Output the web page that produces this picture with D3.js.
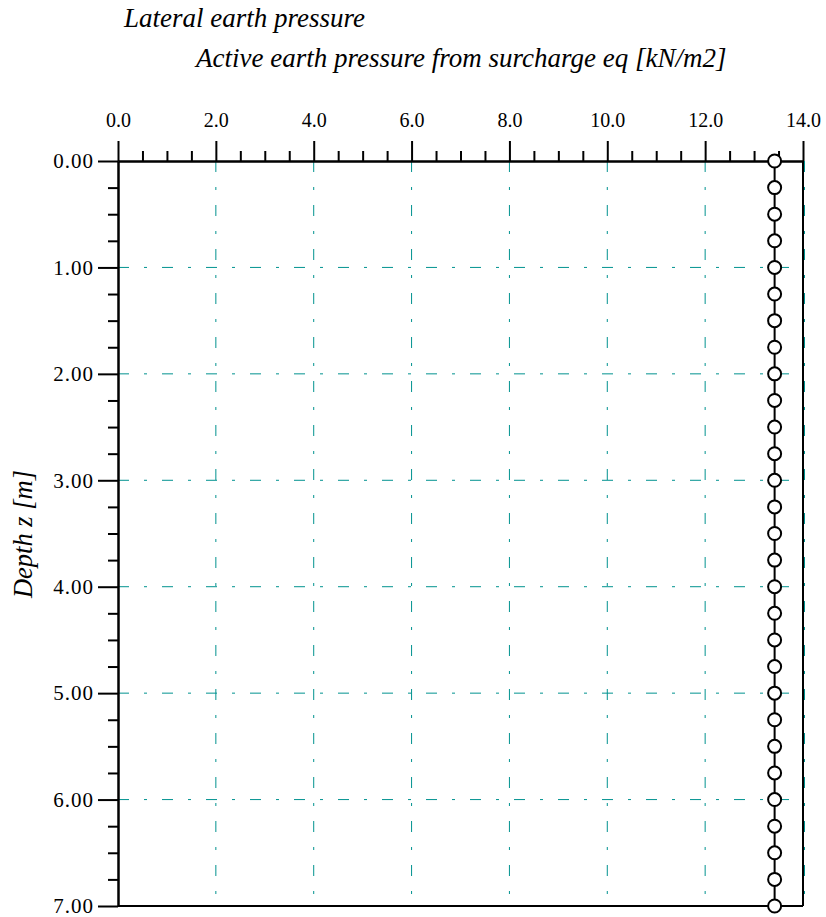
<!DOCTYPE html>
<html>
<head>
<meta charset="utf-8">
<script src="https://cdn.jsdelivr.net/npm/d3@7"></script>
<style>
  html, body { margin: 0; padding: 0; background: #fff; }
  svg { display: block; }
  text { font-family: "Liberation Serif", "Times New Roman", serif; fill: #000; }
</style>
</head>
<body>
<svg id="chart" width="826" height="917"></svg>
<script>
// Depth profile of active earth pressure from surcharge
const depths = [0.00, 0.25, 0.50, 0.75, 1.00, 1.25, 1.50, 1.75, 2.00, 2.25, 2.50, 2.75,
                3.00, 3.25, 3.50, 3.75, 4.00, 4.25, 4.50, 4.75, 5.00, 5.25, 5.50, 5.75,
                6.00, 6.25, 6.50, 6.75, 7.00];
const pressures = [13.42, 13.42, 13.42, 13.42, 13.42, 13.42, 13.42, 13.42, 13.42, 13.42,
                   13.42, 13.42, 13.42, 13.42, 13.42, 13.42, 13.42, 13.42, 13.42, 13.42,
                   13.42, 13.42, 13.42, 13.42, 13.42, 13.42, 13.42, 13.42, 13.42];
const xTicks = [0, 2, 4, 6, 8, 10, 12, 14];
const xMinorTicks = [0.5, 1, 1.5, 2.5, 3, 3.5, 4.5, 5, 5.5, 6.5, 7, 7.5, 8.5, 9, 9.5,
                     10.5, 11, 11.5, 12.5, 13, 13.5];
const yTicks = [0, 1, 2, 3, 4, 5, 6, 7];
const yMinorTicks = [0.25, 0.5, 0.75, 1.25, 1.5, 1.75, 2.25, 2.5, 2.75, 3.25, 3.5, 3.75,
                     4.25, 4.5, 4.75, 5.25, 5.5, 5.75, 6.25, 6.5, 6.75];
const xGrid = [2, 4, 6, 8, 10, 12, 14];
const yGrid = [1, 2, 3, 4, 5, 6];
const titleText = "Lateral earth pressure";
const subtitleText = "Active earth pressure from surcharge eq [kN/m2]";
const yTitleText = "Depth z [m]";

const svg = d3.select("#chart");
const plotLeft = 118, plotRight = 803, plotTop = 161, plotBottom = 906;

const x = d3.scaleLinear().domain([0, 14]).range([plotLeft, plotRight]);
const y = d3.scaleLinear().domain([0, 7]).range([plotTop, plotBottom]);

const gridColor = "#00928f";
const dash = "11,15,3,15";
const serif = "'Liberation Serif', 'Times New Roman', serif";

// grid lines
svg.append("g").selectAll("line").data(xGrid).join("line")
  .attr("x1", d => x(d) + (d === 14 ? 1.5 : 0)).attr("x2", d => x(d) + (d === 14 ? 1.5 : 0))
  .attr("y1", plotTop).attr("y2", plotBottom)
  .attr("stroke", gridColor).attr("stroke-width", 1).attr("stroke-dasharray", dash);
svg.append("g").selectAll("line").data(yGrid).join("line")
  .attr("x1", plotLeft).attr("x2", plotRight)
  .attr("y1", d => y(d)).attr("y2", d => y(d))
  .attr("stroke", gridColor).attr("stroke-width", 1).attr("stroke-dasharray", dash);

// frame: right and bottom borders
svg.append("line").attr("x1", plotRight).attr("x2", plotRight).attr("y1", plotTop).attr("y2", plotBottom)
  .attr("stroke", "#000").attr("stroke-width", 2);
svg.append("line").attr("x1", plotLeft).attr("x2", plotRight).attr("y1", plotBottom).attr("y2", plotBottom)
  .attr("stroke", "#000").attr("stroke-width", 2);

function styleAxis(g) {
  g.attr("font-family", serif).attr("font-size", 20);
  g.select(".domain").attr("stroke", "#000").attr("stroke-width", 2);
  g.selectAll(".tick line").attr("stroke", "#000").attr("stroke-width", 2);
  g.selectAll(".tick text").attr("fill", "#000");
}

// top axis: minor then major ticks
svg.append("g").attr("transform", `translate(0,${plotTop})`)
  .call(d3.axisTop(x).tickValues(xMinorTicks).tickSize(10).tickSizeOuter(0).tickFormat(""))
  .call(styleAxis);
svg.append("g").attr("transform", `translate(0,${plotTop})`)
  .call(d3.axisTop(x).tickValues(xTicks).tickSize(20).tickSizeOuter(0).tickPadding(14)
    .tickFormat(d3.format(".1f")))
  .call(styleAxis);

// left axis
svg.append("g").attr("transform", `translate(${plotLeft},0)`)
  .call(d3.axisLeft(y).tickValues(yMinorTicks).tickSize(10).tickSizeOuter(0).tickFormat(""))
  .call(styleAxis);
svg.append("g").attr("transform", `translate(${plotLeft},0)`)
  .call(d3.axisLeft(y).tickValues(yTicks).tickSize(20).tickSizeOuter(0).tickPadding(4)
    .tickFormat(d3.format(".2f")))
  .call(styleAxis)
  .call(g => g.selectAll(".tick text").attr("font-size", 21).attr("letter-spacing", 1));

// pressure profile
const pts = depths.map((d, i) => ({ z: d, p: pressures[i] }));
svg.append("path").datum(pts)
  .attr("d", d3.line().x(d => x(d.p)).y(d => y(d.z)))
  .attr("fill", "none").attr("stroke", "#000").attr("stroke-width", 2);
svg.append("g").selectAll("circle").data(pts).join("circle")
  .attr("cx", d => x(d.p)).attr("cy", d => y(d.z)).attr("r", 6.5)
  .attr("fill", "#fff").attr("stroke", "#000").attr("stroke-width", 2);

// titles
svg.append("text").attr("x", 124).attr("y", 27)
  .attr("font-size", 27).attr("font-style", "italic").text(titleText);
svg.append("text").attr("x", 196).attr("y", 67)
  .attr("font-size", 27).attr("font-style", "italic").text(subtitleText);
svg.append("text")
  .attr("transform", "translate(32,534) rotate(-90)")
  .attr("text-anchor", "middle")
  .attr("font-size", 26.5).attr("font-style", "italic").text(yTitleText);
</script>
</body>
</html>
